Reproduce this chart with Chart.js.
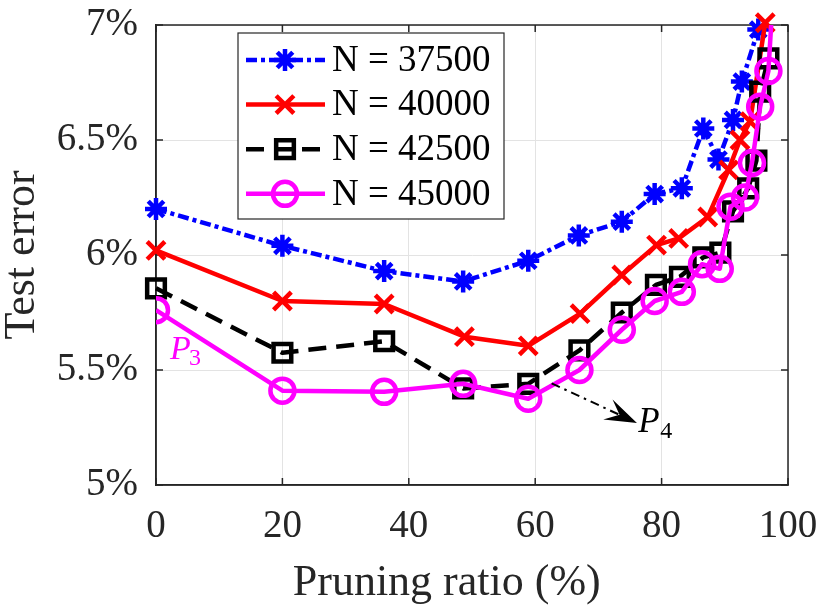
<!DOCTYPE html>
<html lang="en">
<head>
  <meta charset="UTF-8" />
  <title>Test error vs pruning ratio</title>
  <script src="https://cdn.jsdelivr.net/npm/chart.js"></script>
  <style>
    html, body { margin: 0; padding: 0; background: #fff; }
    #wrap { width: 830px; height: 612px; }
  </style>
</head>
<body>
  <div id="wrap"><canvas id="errChart" width="830" height="612"></canvas></div>

  <script>
    // series values (x = pruning ratio %, y = test error %)
    const seriesLabels = ['N = 37500', 'N = 40000', 'N = 42500', 'N = 45000'];

    const ratio37500 = [0, 20, 36.1, 48.6, 58.9, 66.9, 73.7, 78.9, 83.2, 86.6, 89.0, 91.3, 92.7, 95.3];
    const err37500   = [6.20, 6.04, 5.93, 5.885, 5.975, 6.085, 6.145, 6.265, 6.29, 6.55, 6.415, 6.587, 6.754, 6.98];

    const ratio40000 = [0, 20, 36.1, 48.8, 58.9, 67.1, 73.7, 79.2, 82.7, 87.3, 90.6, 92.4, 94.0, 96.4];
    const err40000   = [6.02, 5.80, 5.787, 5.645, 5.605, 5.745, 5.913, 6.043, 6.072, 6.165, 6.37, 6.50, 6.58, 7.01];

    const ratio42500 = [0, 20, 36.1, 48.6, 58.9, 67.0, 73.7, 79.1, 82.9, 86.6, 89.3, 91.3, 93.7, 95.0, 95.6, 96.9];
    const err42500   = [5.855, 5.575, 5.625, 5.42, 5.44, 5.585, 5.75, 5.87, 5.905, 5.99, 6.01, 6.19, 6.29, 6.41, 6.71, 6.855];

    const ratio45000 = [0, 20, 36.1, 48.6, 58.9, 67.0, 73.7, 78.9, 83.2, 86.4, 89.2, 90.9, 93.2, 94.3, 95.6, 96.9, 97.6];
    const err45000   = [5.76, 5.41, 5.405, 5.44, 5.375, 5.50, 5.675, 5.80, 5.84, 5.96, 5.94, 6.21, 6.25, 6.40, 6.645, 6.80, 7.12];

    const xTickValues = [0, 20, 40, 60, 80, 100];
    const yTickValues = [5, 5.5, 6, 6.5, 7];
    const xTitle = 'Pruning ratio (%)';

    const SERIF = '"Liberation Serif", "DejaVu Serif", serif';
    const AXIS = '#262626';
    const LW = 4.5;

    function pts(xs, ys) {
      return xs.map((x, i) => ({ x: x, y: ys[i] }));
    }

    function series(label, xs, ys, color, dash, style, radius, order, clip) {
      return {
        label: label,
        data: pts(xs, ys),
        borderColor: color,
        borderWidth: LW,
        borderDash: dash,
        borderJoinStyle: 'round',
        pointStyle: style,
        pointRadius: radius,
        pointBorderWidth: LW,
        pointBorderColor: color,
        pointBackgroundColor: 'rgba(0,0,0,0)',
        tension: 0,
        order: order,
        clip: clip
      };
    }

    function drawMarker(ctx, style, r, x, y) {
      ctx.beginPath();
      if (style === 'circle') {
        ctx.arc(x, y, r, 0, Math.PI * 2);
      } else if (style === 'rect') {
        const s = r * Math.SQRT1_2;
        ctx.rect(x - s, y - s, 2 * s, 2 * s);
      } else {
        const d = r * Math.SQRT1_2;
        ctx.moveTo(x - d, y - d); ctx.lineTo(x + d, y + d);
        ctx.moveTo(x - d, y + d); ctx.lineTo(x + d, y - d);
        if (style === 'star') {
          ctx.moveTo(x - r, y); ctx.lineTo(x + r, y);
          ctx.moveTo(x, y - r); ctx.lineTo(x, y + r);
        }
      }
      ctx.stroke();
    }

    // box round the axes with inward tick marks (drawn under the lines)
    const axesBox = {
      id: 'axesBox',
      beforeDatasetsDraw(chart) {
        const { ctx, chartArea: a, scales: { x, y } } = chart;
        const tl = 7;
        ctx.save();
        ctx.strokeStyle = AXIS;
        ctx.lineWidth = 1.5;
        ctx.strokeRect(a.left, a.top, a.right - a.left, a.bottom - a.top);
        ctx.beginPath();
        xTickValues.forEach(v => {
          const px = x.getPixelForValue(v);
          ctx.moveTo(px, a.bottom); ctx.lineTo(px, a.bottom - tl);
          ctx.moveTo(px, a.top); ctx.lineTo(px, a.top + tl);
        });
        yTickValues.forEach(v => {
          const py = y.getPixelForValue(v);
          ctx.moveTo(a.left, py); ctx.lineTo(a.left + tl, py);
          ctx.moveTo(a.right, py); ctx.lineTo(a.right - tl, py);
        });
        ctx.stroke();

        // x axis title (sits a little left of the plot centre, as in the figure)
        ctx.fillStyle = AXIS;
        ctx.font = '44px ' + SERIF;
        ctx.textAlign = 'center';
        ctx.textBaseline = 'alphabetic';
        ctx.fillText(xTitle, x.getPixelForValue(46), 595);
        ctx.restore();
      }
    };

    // P3 / P4 labels and the dash-dot arrow
    const notes = {
      id: 'notes',
      afterDatasetsDraw(chart) {
        const { ctx, scales: { x, y } } = chart;
        ctx.save();

        // P3
        let px = x.getPixelForValue(2.2), py = y.getPixelForValue(5.548);
        ctx.fillStyle = '#ff00ff';
        ctx.textBaseline = 'alphabetic';
        ctx.font = 'italic 34px ' + SERIF;
        ctx.fillText('P', px, py);
        ctx.font = '24px ' + SERIF;
        ctx.fillText('3', px + 19, py + 6);

        // arrow
        const x0 = x.getPixelForValue(62.6), y0 = y.getPixelForValue(5.442);
        const x1 = x.getPixelForValue(76.1), y1 = y.getPixelForValue(5.270);
        const len = Math.hypot(x1 - x0, y1 - y0);
        const ux = (x1 - x0) / len, uy = (y1 - y0) / len;
        const nx = -uy, ny = ux;
        const L = 32, W = 11;
        ctx.strokeStyle = '#000';
        ctx.lineWidth = 2;
        ctx.setLineDash([9, 5, 2.5, 5]);
        ctx.beginPath();
        ctx.moveTo(x0, y0);
        ctx.lineTo(x1 - ux * L * 0.6, y1 - uy * L * 0.6);
        ctx.stroke();
        ctx.setLineDash([]);
        ctx.fillStyle = '#000';
        ctx.beginPath();
        ctx.moveTo(x1, y1);
        ctx.lineTo(x1 - ux * L + nx * W, y1 - uy * L + ny * W);
        ctx.lineTo(x1 - ux * L * 0.6, y1 - uy * L * 0.6);
        ctx.lineTo(x1 - ux * L - nx * W, y1 - uy * L - ny * W);
        ctx.closePath();
        ctx.fill();

        // P4
        px = x.getPixelForValue(76.3); py = y.getPixelForValue(5.23);
        ctx.font = 'italic 35px ' + SERIF;
        ctx.fillText('P', px, py);
        ctx.font = '24px ' + SERIF;
        ctx.fillText('4', px + 22, py + 6);

        ctx.restore();
      }
    };

    // MATLAB-style legend box with line + marker samples
    const legendBox = {
      id: 'legendBox',
      afterDatasetsDraw(chart) {
        const ctx = chart.ctx;
        const bx = 238, by = 33, bw = 266, bh = 186;
        ctx.save();
        ctx.fillStyle = '#fff';
        ctx.fillRect(bx, by, bw, bh);
        ctx.strokeStyle = AXIS;
        ctx.lineWidth = 1.2;
        ctx.strokeRect(bx, by, bw, bh);
        chart.data.datasets.forEach((ds, i) => {
          const ry = by + 27 + i * 44.6;
          ctx.strokeStyle = ds.borderColor;
          ctx.lineWidth = ds.borderWidth;
          ctx.setLineDash(ds.borderDash || []);
          ctx.beginPath();
          ctx.moveTo(bx + 8, ry);
          ctx.lineTo(bx + 87, ry);
          ctx.stroke();
          ctx.setLineDash([]);
          ctx.lineWidth = ds.pointBorderWidth;
          drawMarker(ctx, ds.pointStyle, ds.pointRadius, bx + 47, ry);
          ctx.fillStyle = '#000';
          ctx.font = '37px ' + SERIF;
          ctx.textBaseline = 'middle';
          ctx.fillText(ds.label, bx + 94, ry + 1);
        });
        ctx.restore();
      }
    };

    new Chart(document.getElementById('errChart').getContext('2d'), {
      type: 'line',
      data: {
        datasets: [
          series(seriesLabels[0], ratio37500, err37500, '#0000ff', [11, 4, 4, 4], 'star', 11, 4, false),
          series(seriesLabels[1], ratio40000, err40000, '#ff0000', [], 'crossRot', 12.5, 3, false),
          series(seriesLabels[2], ratio42500, err42500, '#000000', [18, 10], 'rect', 12.5, 2, false),
          series(seriesLabels[3], ratio45000, err45000, '#ff00ff', [], 'circle', 12, 1, 0)
        ]
      },
      options: {
        responsive: false,
        animation: false,
        events: [],
        layout: { padding: { top: 25, right: 42, left: 0, bottom: 0 } },
        plugins: {
          legend: { display: false },
          tooltip: { enabled: false }
        },
        scales: {
          x: {
            type: 'linear',
            min: 0,
            max: 100,
            afterBuildTicks: s => { s.ticks = xTickValues.map(v => ({ value: v })); },
            afterFit: s => { s.height = 127; s.paddingLeft = 0; s.paddingRight = 0; },
            grid: { color: '#e3e3e3', lineWidth: 1, drawTicks: false },
            border: { color: AXIS, width: 1.5 },
            ticks: {
              padding: 22,
              color: AXIS,
              maxRotation: 0,
              font: { family: SERIF, size: 39, lineHeight: 1 }
            }
          },
          y: {
            min: 5,
            max: 7,
            afterBuildTicks: s => { s.ticks = yTickValues.map(v => ({ value: v })); },
            afterFit: s => { s.width = 156; s.paddingTop = 0; s.paddingBottom = 0; },
            grid: { color: '#e3e3e3', lineWidth: 1, drawTicks: false },
            border: { color: AXIS, width: 1.5 },
            ticks: {
              padding: 18,
              color: AXIS,
              callback: v => v + '%',
              font: { family: SERIF, size: 39, lineHeight: 1 }
            },
            title: {
              display: true,
              text: 'Test error',
              color: AXIS,
              padding: { top: 0, bottom: 0 },
              font: { family: SERIF, size: 44, lineHeight: 1 }
            }
          }
        }
      },
      plugins: [axesBox, notes, legendBox]
    });
  </script>
</body>
</html>
